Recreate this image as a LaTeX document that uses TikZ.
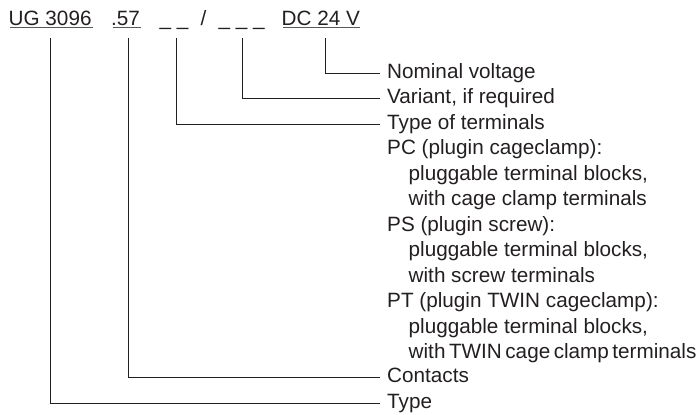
\documentclass[tikz,border=0pt]{standalone}
\usepackage{fontspec}
\setmainfont{Liberation Sans}
\definecolor{ink}{HTML}{231F20}
\tikzset{
  fnt/.style={font=\fontsize{20.7bp}{25bp}\selectfont, text=ink},
  lbl/.style={fnt, anchor=west, inner xsep=7bp, inner ysep=0pt, text height=14bp, text depth=4bp},
  txt/.style={fnt, anchor=base west, inner sep=0pt},
  conn/.style={draw=ink, line width=0.9bp},
  uline/.style={draw=ink!75, line width=1.1bp}
}
\begin{document}
\begin{tikzpicture}[x=1bp,y=-1bp]
\useasboundingbox (0,0) rectangle (700,414);
% top code line
\node[txt] (ug) at (8.5,25) {UG 3096};
\node[txt] (c57) at (111,25) {.57};
\node[txt] (bl1) at (159.5,25) {\_ \_};
\node[txt] (sl) at (200.5,25) {/};
\node[txt] (bl2) at (218.5,25) {\_ \_ \_};
\node[txt] (dc) at (281.5,25) {DC 24 V};
\draw[uline] (10,27.5) -- (93,27.5);
\draw[uline] (113,27.5) -- (141,27.5);
\draw[uline] (283,27.5) -- (360,27.5);
% start points of connectors
\coordinate (pug) at (50,38);
\coordinate (p57) at (128,38);
\coordinate (pbl1) at (176,38);
\coordinate (pbl2) at (242.7,38);
\coordinate (pdc) at (325,38);
% labels
\node[lbl] (nom) at (380,73.3) {Nominal voltage};
\node[lbl] (var) at (380,98.8) {Variant, if required};
\node[lbl] (tot) at (380,124.3) {Type of terminals};
\node[txt] (pc) at (387,154.8) {PC (plugin cageclamp):};
\node[txt] (pc1) at (408.5,180.3) {pluggable terminal blocks,};
\node[txt] (pc2) at (408.5,205.8) {with cage clamp terminals};
\node[txt] (ps) at (387,231.3) {PS (plugin screw):};
\node[txt] (ps1) at (408.5,256.8) {pluggable terminal blocks,};
\node[txt] (ps2) at (408.5,282.3) {with screw terminals};
\node[txt] (pt) at (387,307.8) {PT (plugin TWIN cageclamp):};
\node[txt] (pt1) at (408.5,333.3) {pluggable terminal blocks,};
\node[txt] (pt2) at (408.5,358.8) {with\hspace{3.5bp}TWIN\hspace{3.5bp}cage\hspace{3.5bp}clamp\hspace{3.5bp}terminals};
\node[lbl] (con) at (380,377.8) {Contacts};
\node[lbl] (typ) at (380,403.3) {Type};
% connectors
\draw[conn] (pdc) |- (nom.west);
\draw[conn] (pbl2) |- (var.west);
\draw[conn] (pbl1) |- (tot.west);
\draw[conn] (p57) |- (con.west);
\draw[conn] (pug) |- (typ.west);
\end{tikzpicture}
\end{document}
